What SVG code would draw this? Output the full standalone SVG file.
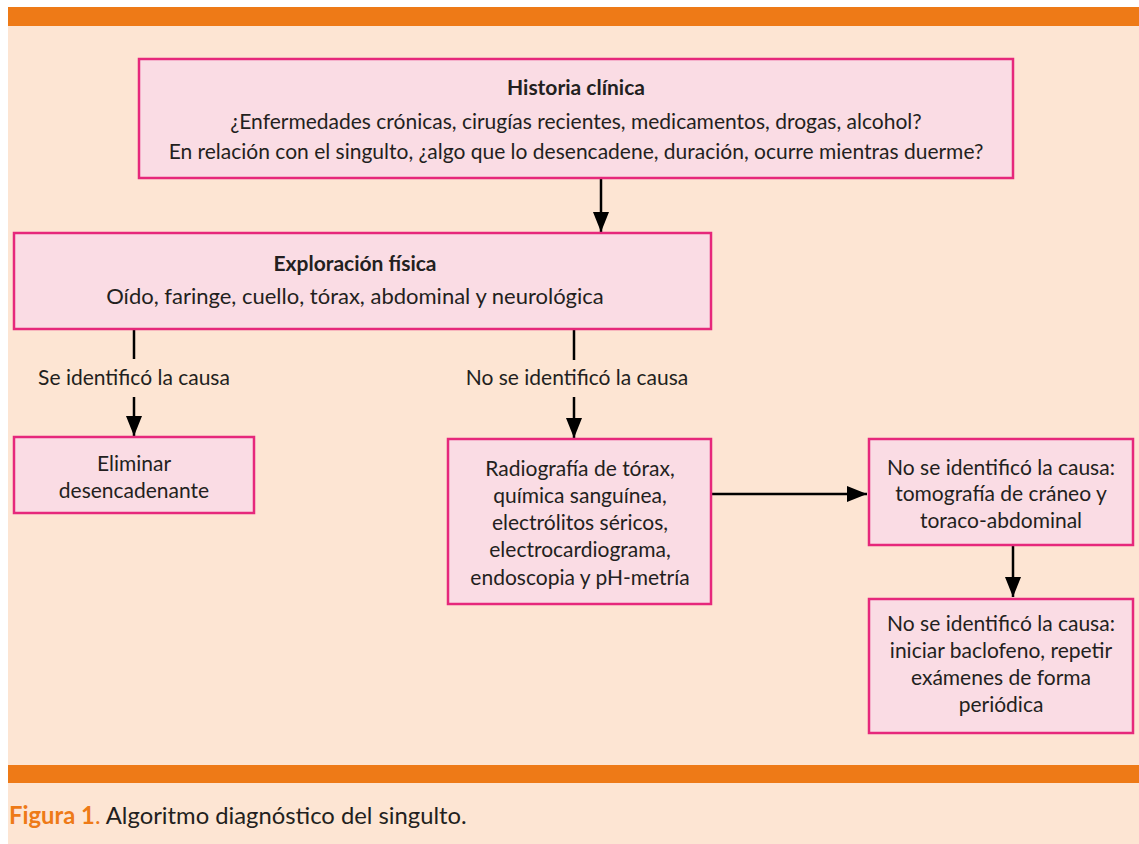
<svg xmlns="http://www.w3.org/2000/svg" width="1139" height="844" viewBox="0 0 1139 844">
<defs>
<style>
.bg{fill:#FDE5D3}
.bar{fill:#EE7A17}
.box{fill:#FADCE4;stroke:#E6287B;stroke-width:2.5}
.t{font-family:Lato,"Open Sans","Liberation Sans",sans-serif;font-size:21px;fill:#231F20;text-anchor:middle}
.b{font-weight:bold}
.ln{stroke:#000;stroke-width:2.5;fill:none}
</style>
<marker id="a" viewBox="0 0 20 16" refX="20" refY="8" markerWidth="20" markerHeight="16" markerUnits="userSpaceOnUse" orient="auto">
<path d="M0,0 L20,8 L0,16 Z" fill="#000"/>
</marker>
</defs>
<rect x="0" y="0" width="1139" height="844" fill="#fff"/>
<rect class="bg" x="8" y="7" width="1131" height="837"/>
<rect class="bar" x="8" y="7" width="1131" height="19"/>
<rect class="bar" x="8" y="765" width="1131" height="18"/>

<g id="connectors">
<line class="ln" x1="601" y1="179" x2="601" y2="232" marker-end="url(#a)"/>
<line class="ln" x1="134" y1="330" x2="134" y2="359"/>
<line class="ln" x1="134" y1="397" x2="134" y2="436" marker-end="url(#a)"/>
<line class="ln" x1="574" y1="330" x2="574" y2="360"/>
<line class="ln" x1="574" y1="397" x2="574" y2="438" marker-end="url(#a)"/>
<line class="ln" x1="712" y1="494" x2="867" y2="494" marker-end="url(#a)"/>
<line class="ln" x1="1013" y1="546" x2="1013" y2="597" marker-end="url(#a)"/>
<text class="t" x="134" y="385">Se identificó la causa</text>
<text class="t" x="577" y="385">No se identificó la causa</text>
</g>

<g id="historia">
<rect class="box" x="139" y="59" width="874" height="119"/>
<text class="t b" x="576" y="95">Historia clínica</text>
<text class="t" x="576" y="129">¿Enfermedades crónicas, cirugías recientes, medicamentos, drogas, alcohol?</text>
<text class="t" x="576" y="159">En relación con el singulto, ¿algo que lo desencadene, duración, ocurre mientras duerme?</text>
</g>

<g id="exploracion">
<rect class="box" x="14" y="233" width="697" height="96"/>
<text class="t b" x="355" y="271">Exploración física</text>
<text class="t" x="355" y="304" style="font-size:22px">Oído, faringe, cuello, tórax, abdominal y neurológica</text>
</g>

<g id="eliminar">
<rect class="box" x="14" y="437" width="240" height="76"/>
<text class="t" x="134" y="471">Eliminar</text>
<text class="t" x="134" y="498">desencadenante</text>
</g>

<g id="estudios">
<rect class="box" x="448" y="439" width="263" height="165"/>
<text class="t" x="580" y="476">Radiografía de tórax,</text>
<text class="t" x="580" y="503">química sanguínea,</text>
<text class="t" x="580" y="530">electrólitos séricos,</text>
<text class="t" x="580" y="557">electrocardiograma,</text>
<text class="t" x="580" y="585">endoscopia y pH-metría</text>
</g>

<g id="tomografia">
<rect class="box" x="869" y="439" width="264" height="106"/>
<text class="t" x="1001" y="475">No se identificó la causa:</text>
<text class="t" x="1001" y="501">tomografía de cráneo y</text>
<text class="t" x="1001" y="528">toraco-abdominal</text>
</g>

<g id="baclofeno">
<rect class="box" x="869" y="599" width="264" height="134"/>
<text class="t" x="1001" y="631">No se identificó la causa:</text>
<text class="t" x="1001" y="658">iniciar baclofeno, repetir</text>
<text class="t" x="1001" y="685">exámenes de forma</text>
<text class="t" x="1001" y="712">periódica</text>
</g>

<text x="9" y="824" style="font-family:Lato,'Open Sans','Liberation Sans',sans-serif;font-size:23.8px;fill:#231F20"><tspan font-weight="bold" fill="#EE7A17">Figura 1</tspan><tspan fill="#EE7A17">.</tspan> Algoritmo diagnóstico del singulto.</text>
</svg>
